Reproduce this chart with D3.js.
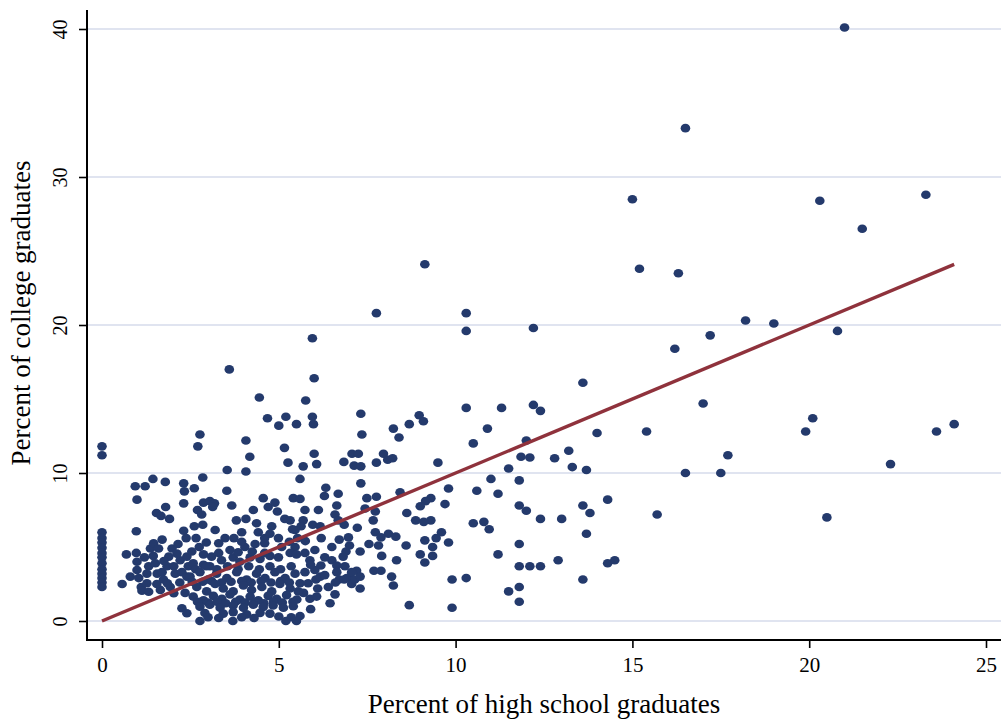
<!DOCTYPE html>
<html>
<head>
<meta charset="utf-8">
<script src="https://cdn.jsdelivr.net/npm/d3@7/dist/d3.min.js"></script>
<style>
  html, body { margin: 0; padding: 0; background: #fff; }
  svg { display: block; }
  text { font-family: "Liberation Serif", "Times New Roman", serif; fill: #000; }
</style>
</head>
<body>
<svg id="chart" width="1001" height="719"></svg>
<script>
// Percent of high school graduates (x) vs percent of college graduates (y), one pair per unit
const tailPairs = [
  [21.0,40.1],[16.5,33.3],[15.0,28.5],[20.3,28.4],[23.3,28.8],[21.5,26.5],[15.2,23.8],[16.3,23.5],
  [18.2,20.3],[19.0,20.1],[20.8,19.6],[17.2,19.3],[16.2,18.4],[17.0,14.7],[15.4,12.8],[20.1,13.7],
  [19.9,12.8],[23.6,12.8],[24.1,13.3],[17.7,11.2],[22.3,10.6],[16.5,10.0],[17.5,10.0],[14.3,8.2],
  [15.7,7.2],[20.5,7.0]
];

const midPairs = [
  [10.3,20.8],[10.3,19.6],[12.2,19.8],[13.6,16.1],[10.3,14.4],[11.3,14.4],[12.2,14.6],[12.4,14.2],
  [10.9,13.0],[14.0,12.7],[10.5,12.0],[12.0,12.2],[11.85,11.1],[12.1,11.05],[12.8,11.0],[13.2,11.5],
  [9.5,10.7],[11.5,10.3],[13.3,10.4],[13.7,10.2],[11.0,9.6],[11.8,9.5],[9.8,8.95],[10.6,8.8],
  [11.2,8.6],[9.3,8.3],[9.15,8.1],[9.0,7.75],[9.7,7.9],[11.8,7.8],[12.0,7.45],[13.6,7.8],[13.8,7.3],
  [12.4,6.9],[13.0,6.9],[9.3,6.8],[9.1,6.7],[10.5,6.6],[10.8,6.7],[10.95,6.2],[9.6,6.0],[13.7,5.9],
  [9.13,5.45],[9.45,5.6],[9.8,5.3],[11.8,5.2],[9.35,5.0],[9.0,4.5],[9.35,4.4],[11.2,4.5],[9.13,3.95],
  [11.8,3.7],[12.1,3.7],[12.4,3.7],[12.9,4.1],[14.3,3.9],[14.5,4.1],[9.9,2.8],[10.3,2.9],[13.6,2.8],
  [11.8,2.3],[11.5,2.0],[11.8,1.3],[9.9,0.9],[8.97,13.9],[9.09,13.5]
];

const centrePairs = [
  [6.0,16.4],[5.95,19.1],[7.76,20.8],[9.13,24.1],[4.45,15.1],[5.76,14.9],[4.68,13.7],[5.2,13.8],
  [5.0,13.2],[5.5,13.3],[5.95,13.8],[5.98,13.3],[7.32,14.0],[7.35,12.6],[8.24,13.0],[8.4,12.4],
  [8.69,13.3],[5.16,11.7],[5.26,10.7],[5.69,10.45],[6.0,11.3],[6.07,10.6],[6.84,10.75],[7.07,11.3],
  [7.25,11.3],[7.13,10.5],[7.32,10.45],[7.76,10.7],[7.96,11.3],[8.08,10.9],[8.22,11.0],[5.6,9.6],
  [6.33,9.0],[6.29,8.45],[6.68,8.6],[7.32,9.3],[7.49,8.3],[7.76,8.4],[8.43,8.7],[4.56,8.3],[5.41,8.3],
  [5.6,8.25],[6.64,7.8],[6.85,6.5],[7.22,6.3],[7.73,7.4],[7.73,6.0],[8.1,5.9],[8.31,5.7],[8.62,7.3],
  [8.87,6.8],[8.6,5.1],[7.82,5.1],[7.55,5.2],[7.91,4.4],[8.33,4.1],[7.69,3.4],[7.89,3.4],[8.19,3.0],
  [8.24,2.4],[8.69,1.07],[6.59,1.8],[6.71,5.5],[6.5,4.1],[6.9,4.7],[7.3,4.7],[7.0,5.1],[7.2,3.4],
  [6.92,2.9],[6.64,3.75],[6.71,2.8],[7.0,2.95],[7.3,2.2],[7.06,2.5],[6.6,2.6],[6.19,3.75],[6.02,4.8],
  [6.05,2.8],[5.88,1.5],[5.6,0.34],[5.2,0.0],[5.5,0.0],
  [5.74,7.5],[6.12,7.5],[5.69,6.8],[5.63,6.4],[6.59,7.2],[6.68,6.8],[7.44,7.6],[7.67,6.8],[5.96,6.5],
  [6.17,6.4],[5.46,6.15],[5.53,5.6],[7.89,5.65],[6.97,5.65],[6.82,4.35],[6.64,3.3],[6.87,3.7],
  [6.85,2.8],[7.06,3.3],[7.15,2.8],[7.3,3.0],[6.07,1.65],[5.46,5.0],[5.74,4.6],[5.88,4.1],[6.02,3.45],
  [6.17,3.0],[5.74,3.3],[5.6,2.55],[5.83,2.55],
  [5.9,3.8],[6.3,4.3],[6.4,2.3],[6.3,3.1],[6.5,5.0],[5.75,5.4],[6.2,5.6],[6.1,2.2],[6.45,1.2],
  [5.9,0.8],[5.7,1.9]
];

const lowPairs = [
  [0,11.8],[0,11.2],[0,6.0],[0,5.6],[0,5.3],[0,4.95],[0,4.6],[0,4.3],[0,3.9],[0,3.5],[0,3.2],
  [0,2.9],[0,2.6],[0,2.3],
  [0.94,9.1],[1.22,9.1],[1.44,9.6],[1.79,9.4],[0.99,8.2],[2.31,9.3],[2.33,8.76],[2.61,8.97],
  [1.8,7.7],[2.31,7.95],[1.54,7.3],[1.67,7.1],[1.91,6.9],[0.97,6.06],[2.31,6.1],[2.38,5.6],[2.61,6.4],
  [0.69,4.5],[0.57,2.5],[0.8,3.0],[0.97,4.6],[0.99,4.0],[0.99,3.45],[1.04,2.9],[1.11,2.3],[1.13,2.05],
  [1.27,2.55],[1.32,1.98],[1.37,4.9],[1.46,5.25],[1.6,4.9],[1.7,5.5],[1.32,3.7],[1.51,3.9],[1.27,3.2],
  [1.56,3.2],[1.7,3.3],[1.74,2.8],[1.65,2.1],[1.93,2.3],[2.03,1.87],[1.89,4.35],[1.98,4.9],[2.12,4.55],
  [1.84,3.7],[2.03,3.7],[2.07,3.2],[2.21,4.1],[2.26,3.3],[2.4,4.35],[2.44,3.7],[2.4,3.0],[2.26,0.86],
  [2.4,0.52],
  [1.45,4.4],[1.75,4.05],[2.15,5.2],[1.2,4.3],[1.85,2.55],[2.2,2.6],[2.35,1.9],[1.55,2.5]
];

const clusterPairs = [
  [2.77,12.6],[2.71,11.8],[2.85,9.7],[3.54,10.2],[4.07,12.2],[4.18,11.1],[4.07,10.1],[3.53,8.8],
  [3.6,17.0],
  [2.87,8.0],[3.05,8.1],[3.18,7.95],[3.13,7.7],[3.67,7.8],[4.28,7.5],[4.7,7.7],[4.89,8.0],[4.96,7.4],
  [5.17,6.9],[5.32,6.8],[5.39,6.2],[2.7,7.5],[2.82,7.2],[2.85,6.5],[3.2,6.15],[3.48,5.6],[3.73,5.6],
  [3.8,6.8],[4.07,6.9],[3.95,6.0],[4.37,6.6],[4.42,6.0],[4.33,5.2],[4.6,5.6],[4.8,6.4],[4.75,5.9],
  [4.99,5.6],[5.08,5.0],[2.66,5.6],[2.75,5.0],[2.54,4.7],[2.87,4.5],[3.1,4.35],[3.62,4.8],[4.04,5.0],
  [2.58,3.9],[2.87,3.8],[3.05,3.7],[3.38,4.1],[3.71,4.3],[3.9,4.0],[4.19,4.3],[4.47,4.2],[4.75,4.4],
  [4.99,4.3],[5.32,4.6],[5.5,4.5],
  [2.65,3.5],[2.95,3.7],[3.25,3.5],[3.55,3.7],[3.85,3.5],[4.15,3.7],[4.45,3.5],[4.75,3.7],[5.05,3.5],
  [5.35,3.7],
  [2.49,3.0],[2.77,3.3],[3.0,2.8],[3.24,3.2],[3.53,2.9],[3.81,3.3],[4.09,2.8],[4.37,3.2],[4.61,2.9],
  [4.89,3.3],[5.18,2.9],[5.46,3.2],
  [2.55,2.65],[2.85,2.65],[3.1,2.7],[3.38,2.6],[3.65,2.65],[3.95,2.7],[4.22,2.6],[4.5,2.7],[4.78,2.6],
  [5.05,2.7],[5.3,2.6],
  [2.68,2.3],[2.96,2.0],[3.2,2.5],[3.43,2.2],[3.71,2.0],[4.0,2.4],[4.23,2.1],[4.52,2.3],[4.8,2.0],
  [5.03,2.5],[5.32,2.2],[5.55,2.0],
  [2.58,1.65],[2.87,1.4],[3.15,1.7],[3.39,1.5],[3.62,1.8],[3.9,1.45],[4.19,1.65],[4.42,1.4],[4.7,1.7],
  [4.94,1.5],[5.22,1.75],[5.51,1.45],
  [2.7,1.3],[3.0,1.25],[3.25,1.3],[3.5,1.2],[3.78,1.3],[4.05,1.25],[4.32,1.3],[4.58,1.2],[4.85,1.3],
  [5.1,1.25],[5.4,1.3],
  [2.77,0.97],[3.05,1.1],[3.34,0.9],[3.71,1.05],[4.0,0.9],[4.28,1.1],[4.56,0.95],[4.84,1.05],
  [5.13,0.9],[5.41,1.0],
  [2.91,0.54],[3.43,0.5],[3.71,0.6],[4.09,0.45],[4.47,0.55],[4.75,0.5],
  [3.0,0.25],[3.3,0.2],[3.95,0.25],[4.3,0.2],[5.0,0.3],[5.35,0.25],
  [3.3,4.6],[3.85,4.65],[4.25,4.7],[4.6,4.6],[2.95,5.3],[3.3,5.25],[3.95,5.35],[4.6,5.25],[5.3,5.35],
  [2.77,0.0],[3.7,0.0]
];

// Fitted line (college = intercept + slope * high school)
const fitIntercept = 0.0;
const fitSlope = 1.0;

const xTicks = [0, 5, 10, 15, 20, 25];
const yTicks = [0, 10, 20, 30, 40];
const xTitle = "Percent of high school graduates";
const yTitle = "Percent of college graduates";

const pairs = [].concat(tailPairs, midPairs, centrePairs, lowPairs, clusterPairs);

const svg = d3.select("#chart");
const W = 1001, H = 719;
svg.append("rect").attr("width", W).attr("height", H).attr("fill", "#fff");

const axisLeftX = 87, axisBottomY = 640, plotTop = 10, plotRight = 1001;

const x = d3.scaleLinear().domain([0, 25]).range([102, 986]);
const y = d3.scaleLinear().domain([0, 40]).range([621, 29]);

// horizontal grid
svg.append("g").selectAll("line").data(yTicks).join("line")
  .attr("x1", axisLeftX).attr("x2", plotRight)
  .attr("y1", d => y(d)).attr("y2", d => y(d))
  .attr("stroke", "#e0e4f0").attr("stroke-width", 1.8);

// scatter
svg.append("g").selectAll("ellipse").data(pairs).join("ellipse")
  .attr("cx", d => x(d[0])).attr("cy", d => y(d[1]))
  .attr("rx", 4.8).attr("ry", 4.3)
  .attr("fill", "#243a6c");

// fitted line across the observed x range
const xr = d3.extent(pairs, d => d[0]);
svg.append("path")
  .datum(xr.map(v => [v, fitIntercept + fitSlope * v]))
  .attr("d", d3.line().x(d => x(d[0])).y(d => y(d[1])))
  .attr("fill", "none").attr("stroke", "#8f323c").attr("stroke-width", 3.4);

// axes
const gx = svg.append("g").attr("transform", `translate(0,${axisBottomY})`)
  .call(d3.axisBottom(x).tickValues(xTicks).tickSize(8).tickPadding(7).tickFormat(d3.format("d")));
gx.select(".domain").remove();
gx.selectAll(".tick line").attr("stroke", "#000").attr("stroke-width", 1.6);
gx.selectAll(".tick text").attr("font-size", 21).attr("font-family", "Liberation Serif").attr("dy", "0.8em");

const gy = svg.append("g").attr("transform", `translate(${axisLeftX},0)`)
  .call(d3.axisLeft(y).tickValues(yTicks).tickSize(8).tickFormat(d3.format("d")));
gy.select(".domain").remove();
gy.selectAll(".tick line").attr("stroke", "#000").attr("stroke-width", 1.6);
gy.selectAll(".tick text")
  .attr("font-size", 20).attr("font-family", "Liberation Serif")
  .attr("x", null).attr("dy", null)
  .attr("text-anchor", "middle")
  .attr("transform", "translate(-20,0) rotate(-90)");

svg.append("line").attr("x1", axisLeftX).attr("x2", axisLeftX)
  .attr("y1", plotTop).attr("y2", axisBottomY + 1)
  .attr("stroke", "#000").attr("stroke-width", 2);
svg.append("line").attr("x1", axisLeftX - 1).attr("x2", plotRight)
  .attr("y1", axisBottomY).attr("y2", axisBottomY)
  .attr("stroke", "#000").attr("stroke-width", 2);

// titles
svg.append("text").attr("x", 544).attr("y", 713)
  .attr("text-anchor", "middle").attr("font-size", 27).text(xTitle);
svg.append("text")
  .attr("transform", `translate(30,313) rotate(-90)`)
  .attr("text-anchor", "middle").attr("font-size", 27).text(yTitle);
</script>
</body>
</html>
